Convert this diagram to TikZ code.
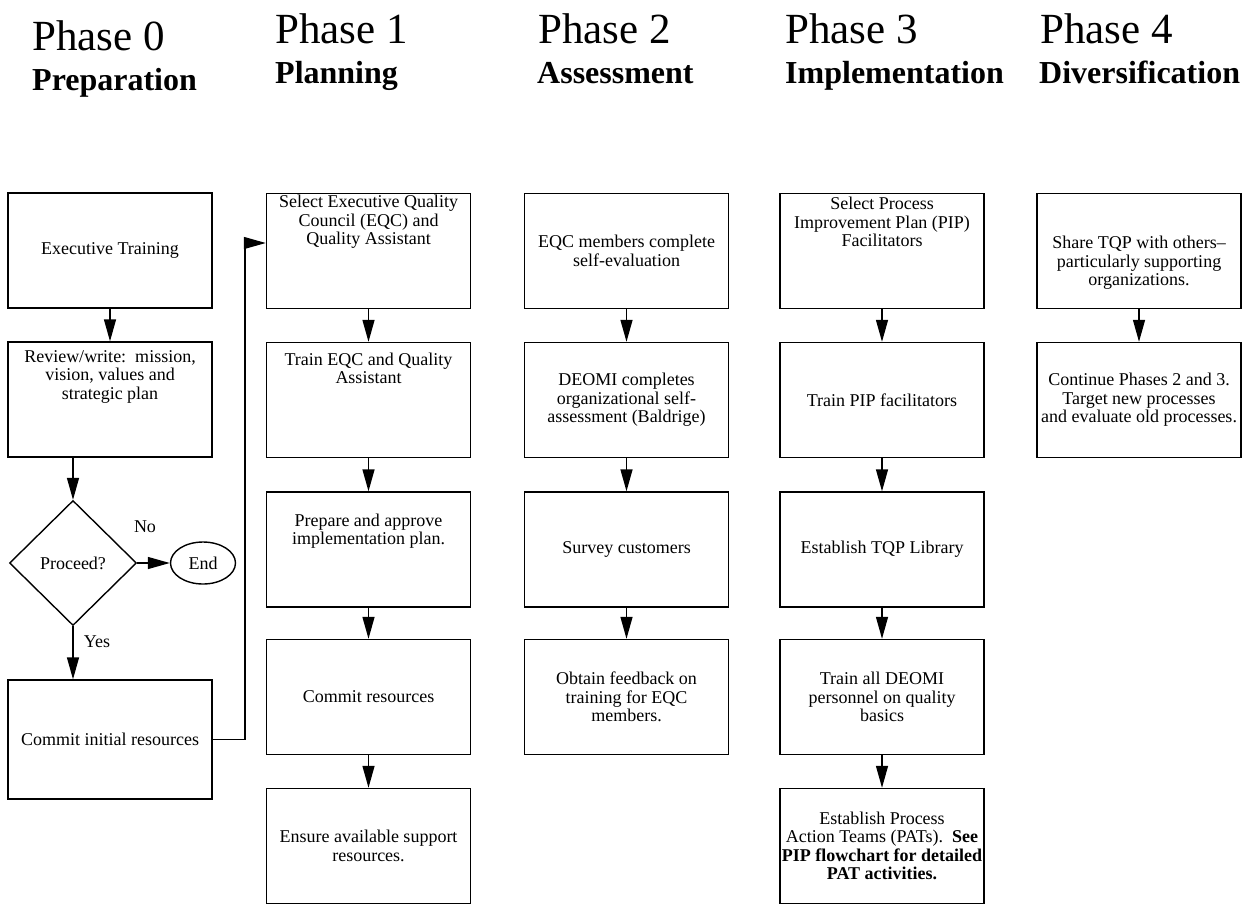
\documentclass[tikz,border=0pt]{standalone}
\usepackage{fontspec}
\setmainfont{Liberation Serif}
\usetikzlibrary{arrows.meta,shapes.geometric}
\begin{document}
\begin{tikzpicture}[x=1pt,y=-1pt,
  box/.style={draw, line width=1.4pt, minimum width=204pt, minimum height=115pt, inner sep=0pt, align=center, font=\fontsize{18}{18.5}\selectfont},
  txt/.style={align=center, inner sep=0pt, font=\fontsize{18}{18.5}\selectfont},
  arr/.style={line width=1.4pt, -{Triangle[width=12pt,length=22pt]}},
  ph/.style={anchor=base west, inner sep=0pt, font=\fontsize{43}{44}\selectfont},
  phb/.style={anchor=base west, inner sep=0pt, font=\fontsize{32}{34}\selectfont\bfseries},
  lab/.style={inner sep=0pt, font=\fontsize{18}{18.5}\selectfont}]
\useasboundingbox (0,0) rectangle (1244,905);
% headers
\node[ph] (h0) at (32,50) {Phase 0};
\node[phb] (s0) at (32,90) {Preparation};
\node[ph] (h1) at (275,43) {Phase 1};
\node[phb] (s1) at (275,83) {Planning};
\node[ph] (h2) at (538,43) {Phase 2};
\node[phb] (s2) at (537,83) {Assessment};
\node[ph] (h3) at (785,43) {Phase 3};
\node[phb] (s3) at (785,83) {Implementation};
\node[ph] (h4) at (1040,43) {Phase 4};
\node[phb] (s4) at (1039,83) {Diversification};
% column 0
\node[box] (a0) at (110,250.5) {Executive Training};
\node[box] (a1) at (110,399.5) {};
\node[txt] (a1t) at (110,376.5) {Review/write:\ \ mission,\\vision, values and\\strategic plan};
\node[draw, diamond, line width=1.4pt, minimum width=127pt, minimum height=125pt, inner sep=0pt, font=\fontsize{18}{18.5}\selectfont] (dq) at (73,563) {Proceed?};
\node[draw, ellipse, line width=1.4pt, minimum width=65pt, minimum height=42pt, inner sep=0pt, font=\fontsize{18}{18.5}\selectfont] (end) at (203,563) {End};
\node[box, minimum height=119pt] (a2) at (110,739.5) {Commit initial resources};
\node[lab] (no) at (145,527) {No};
\node[lab] (yes) at (97,642) {Yes};
% column 1
\node[box] (b0) at (368.5,251) {};
\node[txt] (b0t) at (368.5,222) {Select Executive Quality\\Council (EQC) and\\Quality Assistant};
\node[box] (b1) at (368.5,400) {};
\node[txt] (b1t) at (368.5,368.5) {Train EQC and Quality\\Assistant};
\node[box] (b2) at (368.5,549.5) {};
\node[txt] (b2t) at (368.5,531) {Prepare and approve\\implementation plan.};
\node[box] (b3) at (368.5,697) {Commit resources};
\node[box] (b4) at (368.5,846) {Ensure available support\\resources.};
% column 2
\node[box] (c0) at (626.5,251) {EQC members complete\\self-evaluation};
\node[box] (c1) at (626.5,400) {DEOMI completes\\organizational self-\\assessment (Baldrige)};
\node[box] (c2) at (626.5,549.5) {Survey customers};
\node[box] (c3) at (626.5,697) {Obtain feedback on\\training for EQC\\members.};
% column 3
\node[box] (d0) at (882,251) {};
\node[txt] (d0t) at (882,222) {Select Process\\Improvement Plan (PIP)\\Facilitators};
\node[box] (d1) at (882,400) {Train PIP facilitators};
\node[box] (d2) at (882,549.5) {Establish TQP Library};
\node[box] (d3) at (882,697) {Train all DEOMI\\personnel on quality\\basics};
\node[box] (d4) at (882,846) {Establish Process\\Action Teams (PATs).\ \ \textbf{See}\\\textbf{PIP flowchart for detailed}\\\textbf{PAT activities.}};
% column 4
\node[box] (e0) at (1139,251) {};
\node[txt] (e0t) at (1139,263) {Share TQP with others--\\particularly supporting\\organizations.};
\node[box] (e1) at (1139,400) {Continue Phases 2 and 3.\\Target new processes\\and evaluate old processes.};
% connectors
\draw[arr] (a0) -- (a1);
\draw[arr] (a1.south -| dq.north) -- (dq.north);
\draw[arr] (dq.east) -- (end.west);
\draw[arr] (dq.south) -- (a2.north -| dq.south);
\coordinate (j2) at (245,243);
\draw[arr] (a2.east) -| (j2) -- (b0.west |- j2);
\draw[arr] (b0) -- (b1);
\draw[arr] (b1) -- (b2);
\draw[arr] (b2) -- (b3);
\draw[arr] (b3) -- (b4);
\draw[arr] (c0) -- (c1);
\draw[arr] (c1) -- (c2);
\draw[arr] (c2) -- (c3);
\draw[arr] (d0) -- (d1);
\draw[arr] (d1) -- (d2);
\draw[arr] (d2) -- (d3);
\draw[arr] (d3) -- (d4);
\draw[arr] (e0) -- (e1);
\end{tikzpicture}
\end{document}
